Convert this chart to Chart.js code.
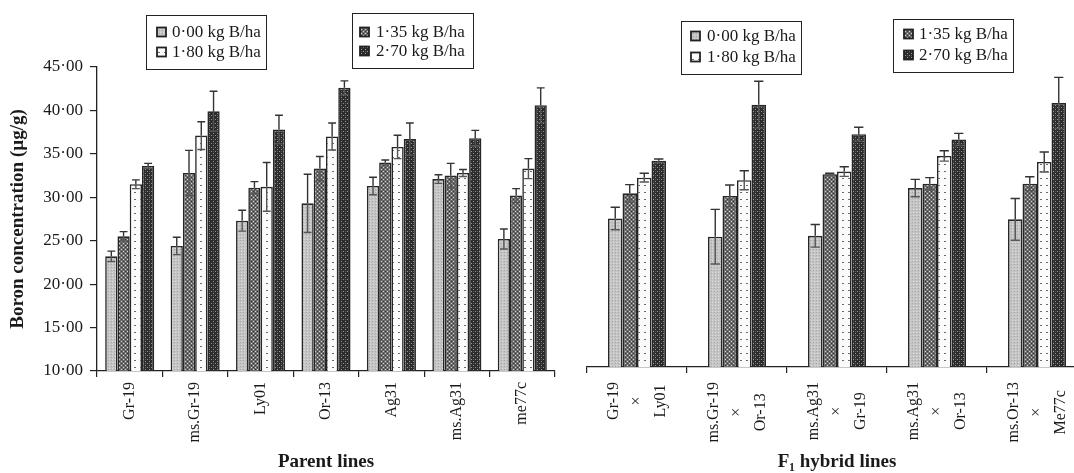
<!DOCTYPE html>
<html><head><meta charset="utf-8">
<script src="https://cdn.jsdelivr.net/npm/chart.js@4/dist/chart.umd.min.js"></script>
<style>
html,body{margin:0;padding:0;background:#fff;overflow:hidden;width:1074px;height:473px;}
#cl{position:absolute;left:0;top:0;}
#cr{position:absolute;left:570px;top:0;}
</style></head><body>
<canvas id="cl" width="560" height="473"></canvas>
<canvas id="cr" width="520" height="473"></canvas>
<script>
// ---------- data ----------
const seriesNames = ['0·00 kg B/ha', '1·35 kg B/ha', '1·80 kg B/ha', '2·70 kg B/ha'];
const yTickLabels = ['10·00', '15·00', '20·00', '25·00', '30·00', '35·00', '40·00', '45·00'];

const parentLines = ['Gr-19', 'ms.Gr-19', 'Ly01', 'Or-13', 'Ag31', 'ms.Ag31', 'me77c'];
const parent000 = [23.2, 24.4, 27.3, 29.3, 31.3, 32.1, 25.2];
const parent135 = [25.5, 32.8, 31.1, 33.3, 34.0, 32.5, 30.2];
const parent180 = [31.5, 37.1, 31.2, 37.0, 35.8, 32.8, 33.3];
const parent270 = [33.6, 39.9, 37.8, 42.6, 36.7, 36.8, 40.6];
const parentErr000 = [0.6, 1.0, 1.2, 3.35, 1.0, 0.5, 1.15];
const parentErr135 = [0.55, 2.6, 0.7, 1.4, 0.3, 1.4, 0.8];
const parentErr180 = [0.5, 1.6, 2.8, 1.55, 1.35, 0.4, 1.15];
const parentErr270 = [0.3, 2.3, 1.65, 0.8, 1.85, 0.9, 2.0];

const hybridLines = [['Gr-19', '×', 'Ly01'], ['ms.Gr-19', '×', 'Or-13'], ['ms.Ag31', '×', 'Gr-19'], ['ms.Ag31', '×', 'Or-13'], ['ms.Or-13', '×', 'Me77c']];
const hybrid000 = [27.1, 25.0, 25.1, 30.6, 27.0];
const hybrid135 = [30.0, 29.7, 32.2, 31.1, 31.1];
const hybrid180 = [31.8, 31.5, 32.5, 34.3, 33.6];
const hybrid270 = [33.75, 40.2, 36.8, 36.2, 40.4];
const hybridErr000 = [1.3, 3.15, 1.3, 1.0, 2.4];
const hybridErr135 = [1.0, 1.25, 0.1, 0.7, 0.8];
const hybridErr180 = [0.5, 1.1, 0.55, 0.6, 1.15];
const hybridErr270 = [0.2, 2.7, 0.8, 0.7, 2.95];

// ---------- styling helpers ----------
const SERIF = '"Liberation Serif", "Times New Roman", serif';
function makePattern(ctx, w, h, bg, dots) {
  const c = document.createElement('canvas'); c.width = w; c.height = h;
  const g = c.getContext('2d'); g.fillStyle = bg; g.fillRect(0, 0, w, h);
  dots.forEach(d => { g.fillStyle = d[2]; g.fillRect(d[0], d[1], d[3] || 1, d[4] || 1); });
  return ctx.createPattern(c, 'repeat');
}
function patternsFor(ctx) {
  return [
    makePattern(ctx, 3, 3, '#c4c4c4', [[0, 0, '#a8a8a8'], [1, 2, '#dcdcdc']]),
    makePattern(ctx, 4, 4, '#6c6c6c', [[1, 1, '#d4d4d4'], [3, 3, '#d4d4d4'], [1, 3, '#383838'], [3, 1, '#383838']]),
    makePattern(ctx, 6, 7, '#fbfbfb', [[2, 3, '#6a6a6a', 2, 1]]),
    makePattern(ctx, 4, 4, '#2c2c2c', [[1, 1, '#959595'], [3, 3, '#959595'], [1, 3, '#555555']])
  ];
}

const errorBars = {
  id: 'errorBars',
  afterDatasetsDraw(chart) {
    const ctx = chart.ctx, y = chart.scales.y;
    ctx.save();
    chart.data.datasets.forEach((ds, i) => {
      const meta = chart.getDatasetMeta(i);
      meta.data.forEach((bar, j) => {
        const v = ds.data[j], e = ds.errors[j];
        const yt = y.getPixelForValue(v + e), yb = y.getPixelForValue(v - e), ym = y.getPixelForValue(v);
        const hw = bar.width * 0.32;
        ctx.lineWidth = 1.4;
        ctx.strokeStyle = '#333';
        ctx.beginPath();
        ctx.moveTo(bar.x, ym); ctx.lineTo(bar.x, yt);
        ctx.moveTo(bar.x - hw, yt); ctx.lineTo(bar.x + hw, yt);
        ctx.stroke();
        ctx.strokeStyle = '#555';
        ctx.beginPath();
        ctx.moveTo(bar.x, ym); ctx.lineTo(bar.x, yb);
        ctx.moveTo(bar.x - hw, yb); ctx.lineTo(bar.x + hw, yb);
        ctx.stroke();
      });
    });
    ctx.restore();
  }
};

const boxLegend = {
  id: 'boxLegend',
  afterDraw(chart, args, opts) {
    const ctx = chart.ctx;
    (opts.boxes || []).forEach(b => {
      ctx.save();
      ctx.strokeStyle = '#222'; ctx.lineWidth = 1;
      ctx.strokeRect(b.x + 0.5, b.y + 0.5, b.w, b.h);
      b.items.forEach((di, k) => {
        const ds = chart.data.datasets[di];
        const ry = b.rows[k];
        ctx.fillStyle = ds.backgroundColor;
        ctx.fillRect(b.sx, ry - 4.5, 9, 9);
        ctx.strokeStyle = '#222'; ctx.lineWidth = 1.8;
        ctx.strokeRect(b.sx, ry - 4.5, 9, 9);
        ctx.fillStyle = '#1a1a1a';
        ctx.font = '17px ' + SERIF;
        ctx.textBaseline = 'middle'; ctx.textAlign = 'left';
        ctx.fillText(ds.label, b.tx, ry + 1);
      });
      ctx.restore();
    });
  }
};

const stackedLabels = {
  id: 'stackedLabels',
  afterDraw(chart, args, opts) {
    if (!opts.enabled) return;
    const xs = chart.scales.x, ctx = chart.ctx;
    ctx.save();
    ctx.font = opts.font; ctx.fillStyle = '#1a1a1a';
    ctx.textAlign = 'center'; ctx.textBaseline = 'middle';
    chart.data.labels.forEach((lines, i) => {
      const cx = xs.getPixelForTick(i);
      const w = Math.max(...lines.map(s => ctx.measureText(s).width));
      const top = xs.top + opts.offset;
      lines.forEach((s, j) => {
        const x = cx + (j - (lines.length - 1) / 2) * opts.gap;
        ctx.save(); ctx.translate(x, top + w / 2); ctx.rotate(-Math.PI / 2);
        ctx.fillText(s, 0, 0); ctx.restore();
      });
    });
    ctx.restore();
  }
};

function buildDatasets(pats, vals, errs) {
  return seriesNames.map((name, i) => ({
    label: name,
    data: vals[i],
    errors: errs[i],
    backgroundColor: pats[i],
    borderColor: '#262626',
    borderWidth: 1.6
  }));
}

// ---------- left chart: parent lines ----------
const ctxL = document.getElementById('cl').getContext('2d');
const patsL = patternsFor(ctxL);
new Chart(ctxL, {
  type: 'bar',
  data: {
    labels: parentLines,
    datasets: buildDatasets(patsL, [parent000, parent135, parent180, parent270], [parentErr000, parentErr135, parentErr180, parentErr270])
  },
  options: {
    responsive: false, animation: false,
    layout: { padding: { top: 67, right: 5, left: 0, bottom: 0 } },
    datasets: { bar: { categoryPercentage: 0.75, barPercentage: 1.0 } },
    plugins: {
      legend: { display: false }, tooltip: { enabled: false },
      boxLegend: { boxes: [
        { x: 146, y: 15, w: 120, h: 54, sx: 157, tx: 172, rows: [32, 52], items: [0, 2] },
        { x: 352, y: 13, w: 121, h: 55, sx: 360, tx: 376, rows: [32, 51], items: [1, 3] }
      ] },
      stackedLabels: { enabled: false }
    },
    scales: {
      x: {
        afterFit(s) { s.height = 102; },
        grid: { drawOnChartArea: false, drawTicks: true, tickLength: 6, color: '#222', lineWidth: 1.2, offset: true },
        border: { display: true, color: '#222', width: 1.3 },
        ticks: { autoSkip: false, maxRotation: 90, minRotation: 90, padding: 5, color: '#1a1a1a', font: { family: SERIF, size: 16 } },
        title: { display: true, text: 'Parent lines', color: '#1a1a1a', font: { family: SERIF, size: 19, weight: 'bold' }, padding: { top: 0, bottom: 0 } }
      },
      y: {
        min: 10, max: 45,
        afterFit(s) { s.width = 97; },
        grid: { drawOnChartArea: false, drawTicks: true, tickLength: 7, color: '#222', lineWidth: 1.2 },
        border: { display: true, color: '#222', width: 1.3 },
        ticks: { stepSize: 5, padding: 7, color: '#1a1a1a', font: { family: SERIF, size: 17 },
          callback: (v, i) => yTickLabels[i] },
        title: { display: true, text: 'Boron concentration (µg/g)', color: '#1a1a1a', font: { family: SERIF, size: 19, weight: 'bold' }, padding: { top: 7, bottom: 0 } }
      }
    }
  },
  plugins: [errorBars, boxLegend, stackedLabels]
});

// ---------- right chart: F1 hybrid lines ----------
const ctxR = document.getElementById('cr').getContext('2d');
const patsR = patternsFor(ctxR);
new Chart(ctxR, {
  type: 'bar',
  data: {
    labels: hybridLines,
    datasets: buildDatasets(patsR, [hybrid000, hybrid135, hybrid180, hybrid270], [hybridErr000, hybridErr135, hybridErr180, hybridErr270])
  },
  options: {
    responsive: false, animation: false,
    layout: { padding: { top: 63, right: 3, left: 17, bottom: 0 } },
    datasets: { bar: { categoryPercentage: 0.58, barPercentage: 1.0 } },
    plugins: {
      legend: { display: false }, tooltip: { enabled: false },
      boxLegend: { boxes: [
        { x: 111, y: 21, w: 120, h: 53, sx: 121, tx: 137, rows: [36, 57], items: [0, 2] },
        { x: 323, y: 19, w: 120, h: 53, sx: 334, tx: 349, rows: [34, 55], items: [1, 3] }
      ] },
      stackedLabels: { enabled: true, font: '16px ' + SERIF, offset: 15, gap: 23.5 }
    },
    scales: {
      x: {
        afterFit(s) { s.height = 106; },
        grid: { drawOnChartArea: false, drawTicks: true, tickLength: 6, color: '#222', lineWidth: 1.2, offset: true },
        border: { display: true, color: '#222', width: 1.3 },
        ticks: { display: false, autoSkip: false },
        title: { display: true, text: 'F₁ hybrid lines', color: '#1a1a1a', font: { family: SERIF, size: 19, weight: 'bold' }, padding: { top: 0, bottom: 0 } }
      },
      y: { display: false, min: 10, max: 45 }
    }
  },
  plugins: [errorBars, boxLegend, stackedLabels]
});
</script>
</body></html>
